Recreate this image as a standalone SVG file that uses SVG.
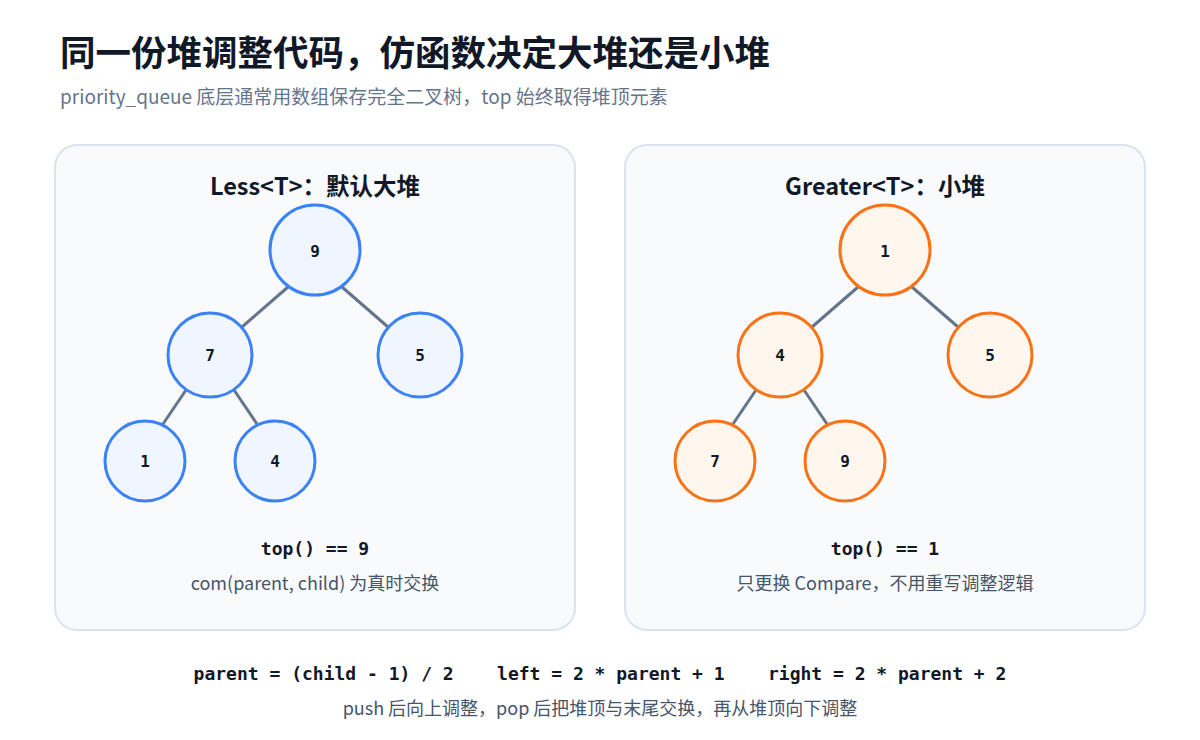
<svg xmlns="http://www.w3.org/2000/svg" width="1200" height="740" viewBox="0 0 1200 740">
<style>
.t{font-family:"Noto Sans CJK SC","Noto Sans",sans-serif}
.m{font-family:"DejaVu Sans Mono","Liberation Mono",monospace;font-weight:bold}
.panel{fill:#f8fafc;stroke:#dbe3ef;stroke-width:2}
.b circle{fill:#eff6ff;stroke:#3b82f6;stroke-width:3}
.o circle{fill:#fff7ed;stroke:#f97316;stroke-width:3}
.n text{font-family:"DejaVu Sans Mono",monospace;font-weight:bold;font-size:16px;fill:#111827;text-anchor:middle}
.e line{stroke:#64748b;stroke-width:3}
</style>
<rect width="1200" height="740" fill="#fff"/>
<text class="t" x="60" y="66" font-size="35.5" font-weight="bold" fill="#111827">同一份堆调整代码，仿函数决定大堆还是小堆</text>
<text class="t" x="60" y="104" font-size="19" fill="#64748b">priority_queue 底层通常用数组保存完全二叉树，top 始终取得堆顶元素</text>
<rect class="panel" x="55" y="145" width="520" height="485" rx="22"/>
<rect class="panel" x="625" y="145" width="520" height="485" rx="22"/>
<text class="t" x="315" y="195" font-size="23.5" font-weight="bold" fill="#111827" text-anchor="middle">Less&lt;T&gt;：默认大堆</text>
<text class="t" x="885" y="195" font-size="23.5" font-weight="bold" fill="#111827" text-anchor="middle">Greater&lt;T&gt;：小堆</text>
<g id="edges" class="e">
<line x1="288" y1="287" x2="242" y2="327"/><line x1="342" y1="287" x2="388" y2="327"/>
<line x1="186" y1="390" x2="163" y2="424"/><line x1="234" y1="390" x2="257" y2="424"/>
<line x1="858" y1="287" x2="812" y2="327"/><line x1="912" y1="287" x2="958" y2="327"/>
<line x1="756" y1="390" x2="733" y2="424"/><line x1="804" y1="390" x2="827" y2="424"/>
</g>
<g id="L9" class="n b"><circle cx="315" cy="250" r="45"/><text x="315" y="257">9</text></g>
<g id="L7" class="n b"><circle cx="210" cy="355" r="42"/><text x="210" y="361">7</text></g>
<g id="L5" class="n b"><circle cx="420" cy="355" r="42"/><text x="420" y="361">5</text></g>
<g id="L1" class="n b"><circle cx="145" cy="461" r="40"/><text x="145" y="467">1</text></g>
<g id="L4" class="n b"><circle cx="275" cy="461" r="40"/><text x="275" y="467">4</text></g>
<g id="R1" class="n o"><circle cx="885" cy="250" r="45"/><text x="885" y="257">1</text></g>
<g id="R4" class="n o"><circle cx="780" cy="355" r="42"/><text x="780" y="361">4</text></g>
<g id="R5" class="n o"><circle cx="990" cy="355" r="42"/><text x="990" y="361">5</text></g>
<g id="R7" class="n o"><circle cx="715" cy="461" r="40"/><text x="715" y="467">7</text></g>
<g id="R9" class="n o"><circle cx="845" cy="461" r="40"/><text x="845" y="467">9</text></g>
<text class="m" x="315" y="555" font-size="18" fill="#111827" text-anchor="middle">top() == 9</text>
<text class="m" x="885" y="555" font-size="18" fill="#111827" text-anchor="middle">top() == 1</text>
<text class="t" x="315" y="590" font-size="18" fill="#475569" text-anchor="middle">com(parent, child) 为真时交换</text>
<text class="t" x="885" y="590" font-size="18" fill="#475569" text-anchor="middle">只更换 Compare，不用重写调整逻辑</text>
<text class="m" x="600" y="680" font-size="18" fill="#111827" text-anchor="middle" xml:space="preserve">parent = (child - 1) / 2    left = 2 * parent + 1    right = 2 * parent + 2</text>
<text class="t" x="600" y="715" font-size="18" fill="#475569" text-anchor="middle">push 后向上调整，pop 后把堆顶与末尾交换，再从堆顶向下调整</text>
</svg>
